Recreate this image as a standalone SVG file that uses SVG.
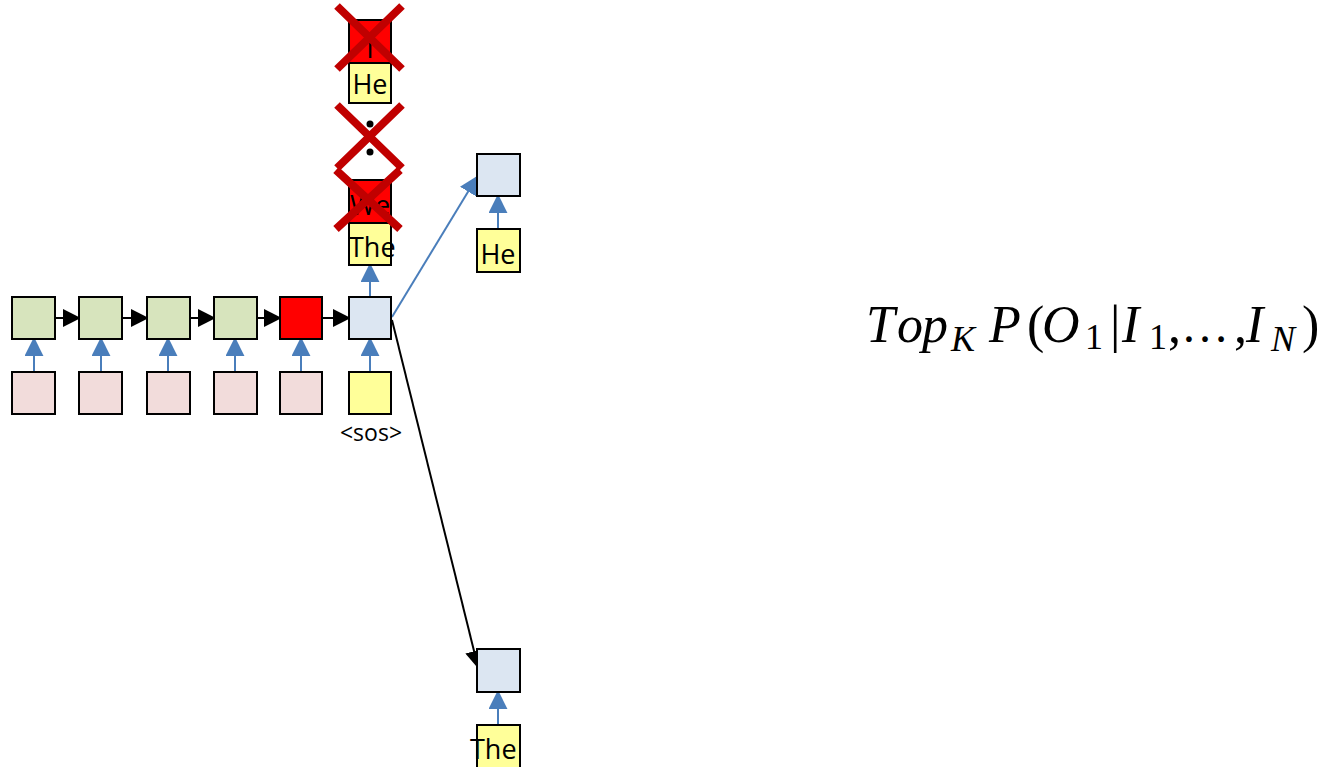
<svg xmlns="http://www.w3.org/2000/svg" width="1326" height="767" viewBox="0 0 1326 767">
<style>
.b{stroke:#000;stroke-width:2}
.g{fill:#d7e4bd}.p{fill:#f2dcdb}.l{fill:#dce6f2}.y{fill:#ffff99}.r{fill:#ff0000}
.t{font-family:"Open Sans","DejaVu Sans",sans-serif;font-size:27px;fill:#000}
.s{font-family:"Open Sans","DejaVu Sans",sans-serif;font-size:23px;fill:#000}
.x{stroke:#c00000;stroke-width:8;fill:none}
.ba{stroke:#4a7ebb;stroke-width:2;fill:none;marker-end:url(#bh)}
.ka{stroke:#000;stroke-width:2;fill:none;marker-end:url(#kh)}
.m{font-family:"Liberation Serif",serif;font-style:italic;font-size:52px;fill:#000}
.m .sub{font-size:36px}
.m .up{font-style:normal}
</style>
<defs>
<marker id="bh" viewBox="0 0 10 10" refX="9" refY="5" markerWidth="9.5" markerHeight="9.5" orient="auto" markerUnits="strokeWidth"><path d="M0,0L10,5L0,10z" fill="#4a7ebb"/></marker>
<marker id="kh" viewBox="0 0 10 10" refX="9" refY="5" markerWidth="9" markerHeight="9" orient="auto" markerUnits="strokeWidth"><path d="M0,0L10,5L0,10z" fill="#000"/></marker>
</defs>
<g id="connectors">
<line class="ka" x1="55" y1="318" x2="79" y2="318"/>
<line class="ka" x1="122" y1="318" x2="147" y2="318"/>
<line class="ka" x1="190" y1="318" x2="214" y2="318"/>
<line class="ka" x1="256" y1="318" x2="280" y2="318"/>
<line class="ka" x1="322" y1="318" x2="349" y2="318"/>
<line class="ba" x1="34" y1="372" x2="34" y2="339"/>
<line class="ba" x1="101" y1="372" x2="101" y2="339"/>
<line class="ba" x1="168" y1="372" x2="168" y2="339"/>
<line class="ba" x1="235" y1="372" x2="235" y2="339"/>
<line class="ba" x1="301" y1="372" x2="301" y2="339"/>
<line class="ba" x1="370" y1="372" x2="370" y2="339"/>
<line class="ba" x1="370" y1="297" x2="370" y2="265"/>
<line class="ba" x1="392" y1="317" x2="477" y2="177"/>
<line class="ka" x1="392" y1="320" x2="478" y2="667"/>
<line class="ba" x1="498" y1="229" x2="498" y2="196"/>
<line class="ba" x1="498" y1="725" x2="498" y2="692"/>
</g>
<g id="enc1"><rect class="b g" x="12" y="297" width="43" height="42"/></g>
<g id="enc2"><rect class="b g" x="79" y="297" width="43" height="42"/></g>
<g id="enc3"><rect class="b g" x="147" y="297" width="43" height="42"/></g>
<g id="enc4"><rect class="b g" x="214" y="297" width="43" height="42"/></g>
<g id="enc5"><rect class="b r" x="280" y="297" width="42" height="42"/></g>
<g id="dec1"><rect class="b l" x="349" y="297" width="42" height="42"/></g>
<g id="in1"><rect class="b p" x="12" y="372" width="43" height="42"/></g>
<g id="in2"><rect class="b p" x="79" y="372" width="43" height="42"/></g>
<g id="in3"><rect class="b p" x="147" y="372" width="43" height="42"/></g>
<g id="in4"><rect class="b p" x="214" y="372" width="43" height="42"/></g>
<g id="in5"><rect class="b p" x="280" y="372" width="42" height="42"/></g>
<g id="sos"><rect class="b y" x="349" y="372" width="42" height="42"/><text class="s" x="371" y="441" text-anchor="middle">&lt;sos&gt;</text></g>
<g id="candI"><rect class="b r" x="349" y="20" width="42" height="43"/><text class="t" x="370" y="58" text-anchor="middle">I</text>
<rect class="b y" x="349" y="63" width="42" height="40"/><text class="t" x="370" y="94" text-anchor="middle">He</text></g>
<g id="dots"><circle cx="370" cy="124" r="3.5" fill="#000"/><circle cx="370" cy="152" r="3.5" fill="#000"/></g>
<g id="candWe"><rect class="b r" x="349" y="180" width="42" height="43"/><text class="t" x="370" y="215" text-anchor="middle">We</text>
<rect class="b y" x="349" y="223" width="42" height="42"/><text class="t" x="349" y="257">The</text></g>
<g id="crosses">
<path class="x" d="M337,6L402,69M402,6L337,69"/>
<path class="x" d="M337,105L402,168M402,105L337,168"/>
<path class="x" d="M336,170L400,229M400,170L336,229"/>
</g>
<g id="decHe"><rect class="b l" x="477" y="154" width="43" height="42"/></g>
<g id="inHe"><rect class="b y" x="477" y="229" width="43" height="43"/><text class="t" x="498" y="264" text-anchor="middle">He</text></g>
<g id="decThe"><rect class="b l" x="477" y="649" width="43" height="43"/></g>
<g id="inThe"><rect class="b y" x="477" y="725" width="43" height="44"/><text class="t" x="470" y="759">The</text></g>
<g id="formula"><text class="m" y="342"><tspan x="866">T</tspan><tspan x="897">o</tspan><tspan x="922">p</tspan><tspan class="sub" x="951" y="351">K</tspan><tspan x="989" y="342">P</tspan><tspan class="up" x="1027">(</tspan><tspan x="1042">O</tspan><tspan class="sub up" x="1085" y="349">1</tspan><tspan class="up" x="1110" y="342">|</tspan><tspan x="1122">I</tspan><tspan class="sub up" x="1149" y="349">1</tspan><tspan class="up" x="1168" y="342">,</tspan><tspan class="up" x="1181" font-size="48">…</tspan><tspan class="up" x="1234">,</tspan><tspan x="1246">I</tspan><tspan class="sub" x="1271" y="351">N</tspan><tspan class="up" x="1302" y="342">)</tspan></text></g>
</svg>
